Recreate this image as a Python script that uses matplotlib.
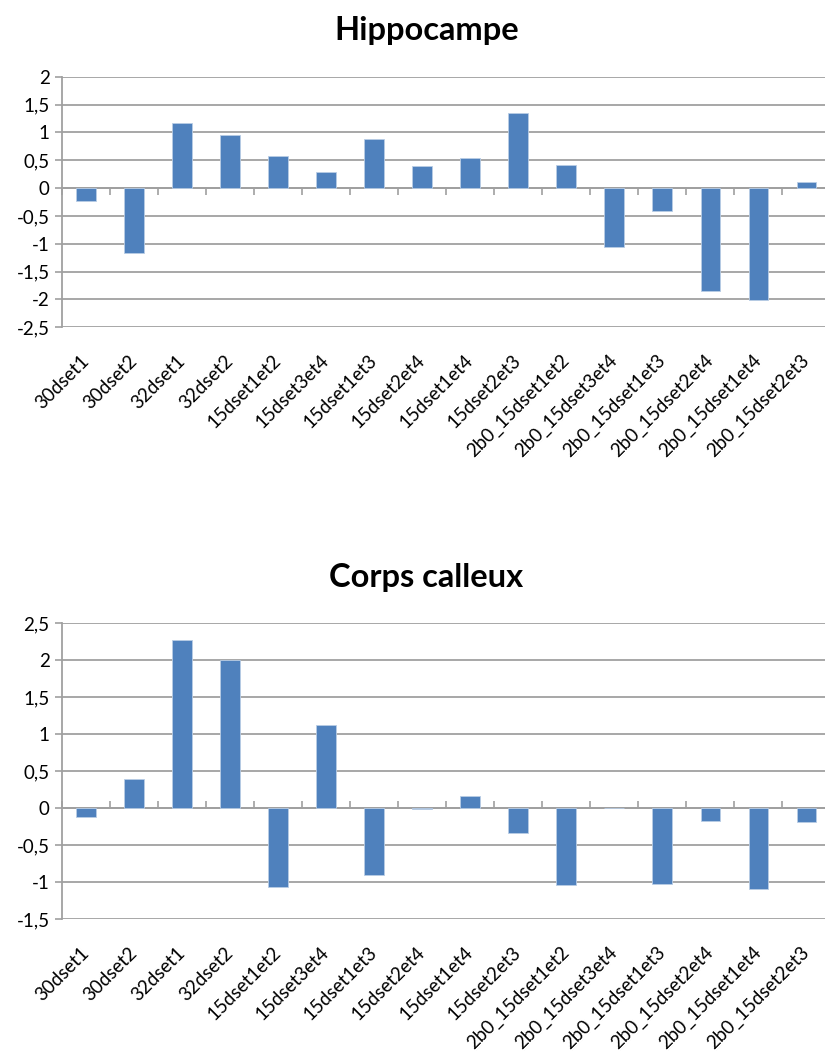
import numpy as np
import matplotlib
matplotlib.use('Agg')
import matplotlib.pyplot as plt
from matplotlib.ticker import FixedLocator, FuncFormatter


# Data
categories = ['30dset1', '30dset2', '32dset1', '32dset2', '15dset1et2', '15dset3et4',
              '15dset1et3', '15dset2et4', '15dset1et4', '15dset2et3',
              '2b0_15dset1et2', '2b0_15dset3et4', '2b0_15dset1et3', '2b0_15dset2et4',
              '2b0_15dset1et4', '2b0_15dset2et3']
hippocampe = [-0.23, -1.16, 1.16, 0.96, 0.57, 0.29, 0.88, 0.40, 0.54, 1.35,
              0.42, -1.05, -0.42, -1.84, -2.01, 0.10]
corps_calleux = [-0.12, 0.39, 2.27, 2.00, -1.07, 1.13, -0.90, -0.015, 0.16, -0.34,
                 -1.04, 0.002, -1.02, -0.17, -1.09, -0.18]

titles = ['Hippocampe', 'Corps calleux']
y_limits = [(-2.5, 2.0), (-1.5, 2.5)]


def comma_fmt(v, pos):
    return ('%g' % v).replace('.', ',')


def draw_panel(fig, rect, values, title, ylim):
    ax = fig.add_axes(rect)
    x = np.arange(len(categories))
    ax.bar(x, values, width=0.4, color='#4f81bd', edgecolor='#b9cde5',
           linewidth=0.6, zorder=3)
    ax.set_xlim(-0.5, len(categories) - 0.5)
    ax.set_ylim(*ylim)
    ax.yaxis.set_major_locator(FixedLocator(np.arange(ylim[0], ylim[1] + 0.01, 0.5)))
    ax.yaxis.set_major_formatter(FuncFormatter(comma_fmt))
    ax.grid(axis='y', color='#a0a0a0', linewidth=1.3, zorder=0)
    ax.grid(axis='x', visible=False)

    for s in ['top', 'right', 'bottom']:
        ax.spines[s].set_visible(False)
    ax.spines['left'].set_color('#a0a0a0')
    ax.spines['left'].set_linewidth(1.3)
    ax.tick_params(axis='y', length=5, width=1.2, color='#a0a0a0',
                   labelsize=13.5, pad=4)

    ax.set_xticks(x)
    ax.set_xticklabels(categories, rotation=45, ha='right', va='center',
                       rotation_mode='anchor', fontsize=13.5)
    ax.tick_params(axis='x', length=0, pad=22)

    # horizontal axis crossing at zero, tick marks between categories
    zero_frac = (0 - ylim[0]) / (ylim[1] - ylim[0])
    sec = ax.secondary_xaxis(zero_frac)
    sec.set_xticks(np.arange(len(categories) + 1) - 0.5)
    sec.set_xticklabels([])
    sec.tick_params(length=5, width=1.2, color='#a0a0a0', direction='in')
    for s in sec.spines.values():
        s.set_color('#a0a0a0')
        s.set_linewidth(1.3)

    fig.text(0.517, rect[1] + rect[3] + 0.044, title, ha='center', va='center',
             fontsize=23.5, fontweight='bold')
    return ax


def main():
    plt.rcParams['font.family'] = ['Lato', 'DejaVu Sans']
    fig = plt.figure(figsize=(8.25, 10.53), dpi=100)

    rects = [[0.0752, 0.6892, 0.931, 0.238],
             [0.0752, 0.127, 0.931, 0.281]]
    for rect, vals, title, ylim in zip(rects, [hippocampe, corps_calleux], titles, y_limits):
        draw_panel(fig, rect, vals, title, ylim)

    fig.savefig('out.png', dpi=100)


if __name__ == '__main__':
    main()
